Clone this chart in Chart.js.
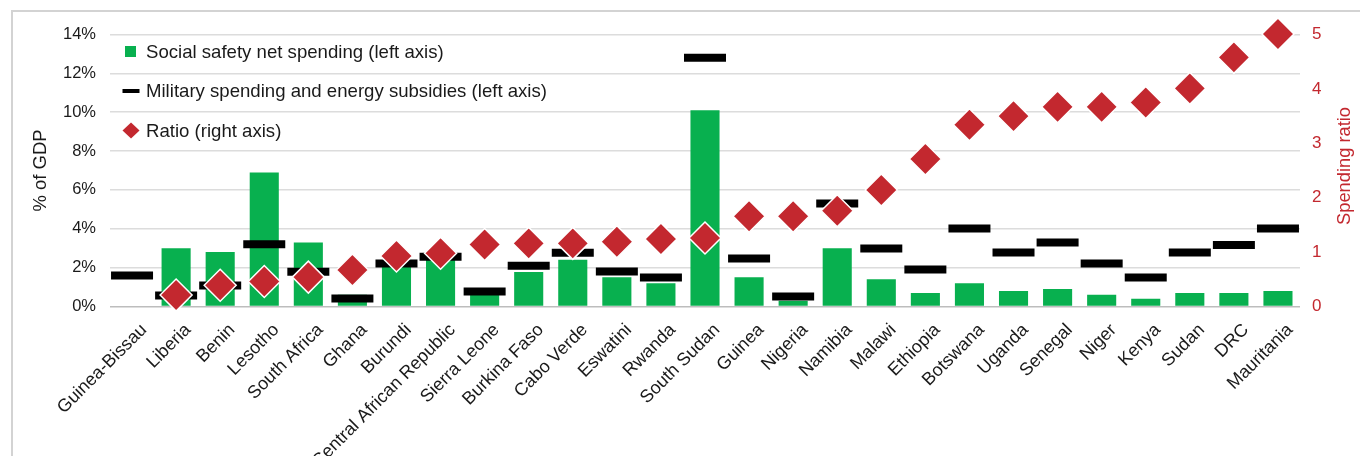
<!DOCTYPE html>
<html>
<head>
<meta charset="utf-8">
<script src="https://cdn.jsdelivr.net/npm/chart.js@4.4.0/dist/chart.umd.min.js"></script>
<style>
  html, body { margin: 0; padding: 0; background: #fff; }
  #wrap { position: relative; width: 1360px; height: 456px; overflow: hidden; }
  #frame { position: absolute; left: 11px; top: 10px; right: -2px; bottom: -2px;
           border-left: 2px solid #d3d3d3; border-top: 2px solid #d3d3d3; }
  #chart { position: absolute; left: 0; top: 0; }
</style>
</head>
<body>
<div id="wrap">
  <div id="frame"></div>
  <canvas id="chart" width="1360" height="456"></canvas>
</div>
<script>
const FONT = '"Liberation Sans", Arial, sans-serif';
const TEXT = '#1a1a1a';
const GREEN = '#08b04f';
const RED = '#c3282f';

// Countries, sorted by ratio
const countries = [
  'Guinea-Bissau', 'Liberia', 'Benin', 'Lesotho', 'South Africa', 'Ghana', 'Burundi',
  'Central African Republic', 'Sierra Leone', 'Burkina Faso', 'Cabo Verde', 'Eswatini',
  'Rwanda', 'South Sudan', 'Guinea', 'Nigeria', 'Namibia', 'Malawi', 'Ethiopia',
  'Botswana', 'Uganda', 'Senegal', 'Niger', 'Kenya', 'Sudan', 'DRC', 'Mauritania'
];

// % of GDP
const safetyNet = [
  null, 3.0, 2.8, 6.9, 3.3, 0.6, 2.35, 2.6, 0.68, 1.78, 2.4, 1.5, 1.2, 10.1,
  1.5, 0.3, 3.0, 1.4, 0.7, 1.2, 0.8, 0.9, 0.6, 0.4, 0.7, 0.7, 0.8
];
const militaryEnergy = [
  1.6, 0.56, 1.08, 3.2, 1.79, 0.41, 2.21, 2.56, 0.77, 2.1, 2.77, 1.8, 1.49, 12.8,
  2.47, 0.51, 5.3, 2.98, 1.9, 4.01, 2.78, 3.29, 2.21, 1.49, 2.78, 3.17, 4.01
];
// military + energy divided by safety net
const ratio = [
  null, 0.21, 0.39, 0.46, 0.54, 0.67, 0.93, 0.98, 1.14, 1.16, 1.16, 1.19, 1.24, 1.26,
  1.66, 1.66, 1.76, 2.14, 2.71, 3.34, 3.5, 3.67, 3.67, 3.75, 4.01, 4.58, 5.01
];

const leftTicks = { min: 0, max: 14, step: 2 };
const rightTicks = { min: 0, max: 5, step: 1 };

// legend inside the plot + right axis title reading bottom to top
const extras = {
  id: 'extras',
  afterDraw(chart) {
    const ctx = chart.ctx;
    const ds = chart.data.datasets;
    const rows = [51.5, 91, 130.5];
    ctx.save();
    ctx.font = '18.6px ' + FONT;
    ctx.textBaseline = 'middle';
    ctx.textAlign = 'left';

    ctx.fillStyle = GREEN;
    ctx.fillRect(125, rows[0] - 5.5, 11, 11);
    ctx.fillStyle = '#000';
    ctx.fillRect(122.5, rows[1] - 2, 17, 4);
    ctx.fillStyle = RED;
    ctx.beginPath();
    ctx.moveTo(131, rows[2] - 8);
    ctx.lineTo(139.5, rows[2]);
    ctx.lineTo(131, rows[2] + 8);
    ctx.lineTo(122.5, rows[2]);
    ctx.closePath();
    ctx.fill();

    ctx.fillStyle = TEXT;
    ds.forEach((d, i) => ctx.fillText(d.label, 146, rows[i] + 1));

    ctx.translate(1345, 166);
    ctx.rotate(-Math.PI / 2);
    ctx.textAlign = 'center';
    ctx.fillStyle = RED;
    ctx.font = '18.3px ' + FONT;
    ctx.fillText('Spending ratio', 0, 0);
    ctx.restore();
  }
};

new Chart(document.getElementById('chart'), {
  type: 'bar',
  data: {
    labels: countries,
    datasets: [
      {
        label: 'Social safety net spending (left axis)',
        data: safetyNet,
        backgroundColor: GREEN,
        barPercentage: 0.66,
        categoryPercentage: 1,
        yAxisID: 'y',
        order: 3
      },
      {
        type: 'line',
        label: 'Military spending and energy subsidies (left axis)',
        data: militaryEnergy,
        showLine: false,
        pointStyle: 'line',
        pointRadius: 21,
        pointHoverRadius: 21,
        pointBorderWidth: 8,
        pointBorderColor: '#000',
        pointBackgroundColor: '#000',
        yAxisID: 'y',
        order: 2
      },
      {
        type: 'line',
        label: 'Ratio (right axis)',
        data: ratio,
        showLine: false,
        clip: false,
        pointStyle: 'rectRot',
        pointRadius: 16,
        pointHoverRadius: 16,
        pointBackgroundColor: RED,
        pointBorderColor: '#fff',
        pointBorderWidth: 1.5,
        yAxisID: 'y1',
        order: 1
      }
    ]
  },
  options: {
    responsive: false,
    animation: false,
    layout: { padding: { top: 34.5, left: 0, right: 0, bottom: 0 } },
    plugins: {
      legend: { display: false },
      tooltip: { enabled: false }
    },
    scales: {
      x: {
        offset: true,
        grid: { display: false },
        border: { display: false },
        ticks: {
          autoSkip: false,
          minRotation: 45,
          maxRotation: 45,
          padding: 5,
          labelOffset: 12,
          color: TEXT,
          font: { family: FONT, size: 18 }
        },
        afterFit(s) { s.height = 149.5; }
      },
      y: {
        position: 'left',
        min: leftTicks.min,
        max: leftTicks.max,
        grid: {
          drawTicks: false,
          lineWidth: 1.5,
          color: (c) => (c.tick && c.tick.value === 0 ? '#bdbdbd' : '#dcdcdc')
        },
        border: { display: false },
        ticks: {
          stepSize: leftTicks.step,
          padding: 14,
          color: TEXT,
          font: { family: FONT, size: 16.5 },
          callback: (v) => v + '%'
        },
        title: {
          display: true,
          text: '% of GDP',
          color: TEXT,
          font: { family: FONT, size: 18.5 },
          padding: { top: 30, bottom: 0 }
        },
        afterFit(s) { s.width = 110; }
      },
      y1: {
        position: 'right',
        min: rightTicks.min,
        max: rightTicks.max,
        grid: { display: false, drawTicks: false },
        border: { display: false },
        ticks: {
          stepSize: rightTicks.step,
          padding: 12,
          color: RED,
          font: { family: FONT, size: 17 }
        },
        afterFit(s) { s.width = 60; }
      }
    }
  },
  plugins: [extras]
});
</script>
</body>
</html>
